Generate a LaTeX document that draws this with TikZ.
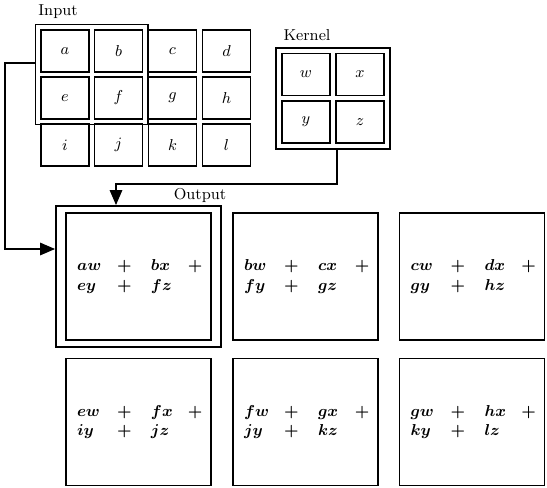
\documentclass[tikz,border=0pt]{standalone}
\usepackage{amsmath, amssymb}
\usepackage{tikz}
\usetikzlibrary{
	arrows.meta,fit
}

% two rows of products inside an output box
\newcommand{\terms}[4]{%
	\hspace*{0.22cm}\begin{tabular}{@{}p{0.8cm}@{}p{0.68cm}@{}p{0.74cm}@{}l@{}}
	$#1$ & $+$ & $#2$ & $+$\\
	$#3$ & $+$ & $#4$ &
	\end{tabular}}

\tikzset{
	cell/.style={draw, line width=1.1pt, minimum width=0.96cm, minimum height=0.84cm, inner sep=0pt, font=\small},
	outbox/.style={draw, line width=1.1pt, minimum height=2.54cm, inner sep=0pt, text width=2.9cm, align=left, font=\small\boldmath},
	lbl/.style={font=\small},
	flow/.style={line width=0.8pt, -{Triangle[length=0.3cm,width=0.25cm]}},
}

\begin{document}
\begin{tikzpicture}[x=0.02cm,y=-0.02cm]
	\useasboundingbox (0,0) rectangle (547,487);
	% labels
	\node[lbl] (inlbl) at (58,12) {Input};
	\node[lbl] (kerlbl) at (307,35) {Kernel};
	\node[lbl] (outlbl) at (200,195) {Output};
	% input
	\node[cell] (a) at (65,51) {$a$};
	\node[cell] (b) at (118.5,51) {$b$};
	\node[cell] (c) at (172.5,51) {$c$};
	\node[cell] (d) at (226.5,51) {$d$};
	\node[cell] (e) at (65,98) {$e$};
	\node[cell] (f) at (118.5,98) {$f$};
	\node[cell] (g) at (172.5,98) {$g$};
	\node[cell] (h) at (226.5,98) {$h$};
	\node[cell] (i) at (65,145) {$i$};
	\node[cell] (j) at (118.5,145) {$j$};
	\node[cell] (k) at (172.5,145) {$k$};
	\node[cell] (l) at (226.5,145) {$l$};
	\node[draw, line width=1pt, fit=(a)(f), inner sep=0.09cm] (inbox) {};
	% kernel
	\node[cell] (w) at (306,74.5) {$w$};
	\node[cell] (x) at (360,74.5) {$x$};
	\node[cell] (y) at (306,122) {$y$};
	\node[cell] (z) at (360,122) {$z$};
	\node[draw, line width=1.1pt, fit=(w)(z), inner sep=0.1cm] (kernel) {};
	% output
	\node[outbox] (o1) at (138.5,276.5) {\terms{aw}{bx}{ey}{fz}};
	\node[outbox] (o2) at (305.5,276.5) {\terms{bw}{cx}{fy}{gz}};
	\node[outbox] (o3) at (472,276.5) {\terms{cw}{dx}{gy}{hz}};
	\node[outbox] (o4) at (138.5,422) {\terms{ew}{fx}{iy}{jz}};
	\node[outbox] (o5) at (305.5,422) {\terms{fw}{gx}{jy}{kz}};
	\node[outbox] (o6) at (472,422) {\terms{gw}{hx}{ky}{lz}};
	\node[draw, line width=1.1pt, fit=(o1), inner xsep=0.18cm, inner ysep=0.12cm] (outer) {};
	%
	\coordinate (bendA) at (5,63);
	\coordinate (bendB) at (5,249);
	\coordinate (bendC) at (337,184);
	\coordinate (bendD) at (116,184);
	% arrows
	\draw[flow] (inbox.west |- bendA) -- (bendA) -- (bendB) -- (bendB -| outer.west);
	\draw[flow] (kernel.south -| bendC) -- (bendC) -- (bendD) -- (bendD |- outer.north);
\end{tikzpicture}
\end{document}
